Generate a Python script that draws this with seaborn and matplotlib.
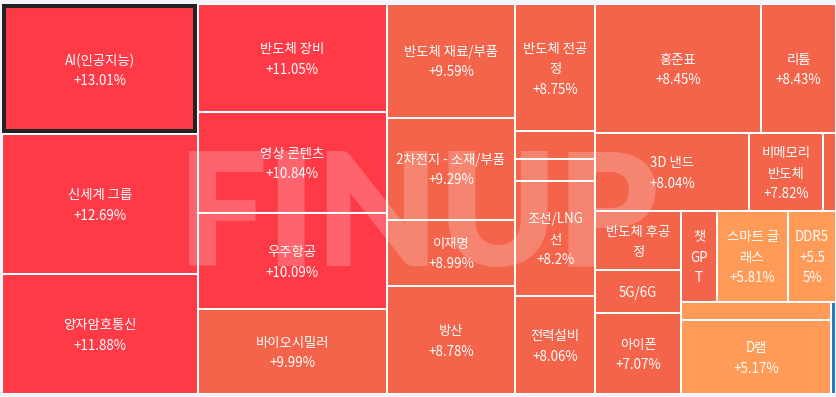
import matplotlib
matplotlib.use("Agg")
import matplotlib.pyplot as plt
import seaborn as sns
from matplotlib.font_manager import FontProperties
from matplotlib.patches import Rectangle

# ---------------- data ----------------
names = ["AI(인공지능)", "신세계 그룹", "양자암호통신",
         "반도체 장비", "영상 콘텐츠", "우주항공", "바이오시밀러",
         "반도체 재료/부품", "2차전지 - 소재/부품", "이재명", "방산",
         "반도체 전공정", "", "", "조선/LNG선", "전력설비",
         "홍준표", "리튬", "3D 낸드", "비메모리 반도체", "",
         "반도체 후공정", "5G/6G", "아이폰",
         "챗GPT", "스마트 글래스", "DDR5", "", "D램", ""]
changes = [13.01, 12.69, 11.88,
           11.05, 10.84, 10.09, 9.99,
           9.59, 9.29, 8.99, 8.78,
           8.75, 8.7, 8.6, 8.2, 8.06,
           8.45, 8.43, 8.04, 7.82, 7.9,
           7.5, 7.4, 7.07,
           7.2, 5.81, 5.55, 5.3, 5.17, -0.3]
weights = [25513, 27175, 23558,
           20371, 19234, 18097, 16202,
           14528, 13056, 8448, 13888,
           10264, 2254, 1691, 9258, 7929,
           21350, 9675, 11973, 5795, 991,
           5002, 3745, 6900,
           3265, 6458, 4335, 2700, 11145, 462]

# nesting of the treemap (h: side by side, v: stacked)
tree = ("h", [("v", [0, 1, 2]),
              ("v", [3, 4, 5, 6]),
              ("v", [7, 8, 9, 10]),
              ("v", [11, 12, 13, 14, 15]),
              ("v", [("h", [16, 17]),
                     ("h", [18, 19, 20]),
                     ("h", [("v", [21, 22, 23]),
                            ("v", [("h", [24, 25, 26]),
                                   ("h", [("v", [27, 28]), 29])])])])])
selected = 0


def total(node):
    if isinstance(node, int):
        return weights[node]
    return sum(total(k) for k in node[1])


def layout(node, x, y, w, h, out):
    if isinstance(node, int):
        out[node] = (x, y, w, h)
        return
    d, kids = node
    s = total(node)
    pos = x if d == "h" else y
    for k in kids:
        f = total(k) / s
        if d == "h":
            layout(k, pos, y, w * f, h, out)
            pos += w * f
        else:
            layout(k, x, pos, w, h * f, out)
            pos += h * f


def color_for(v):
    if v < 0:
        return "#1F7BD3"
    if v >= 10:
        return "#FF3A47"
    if v >= 7:
        return "#F3644A"
    return "#FF9A57"


sns.set_theme(style="white")
plt.rcParams["font.family"] = ["Noto Sans CJK KR", "DejaVu Sans"]

FW, FH = 837, 397
fig = plt.figure(figsize=(FW / 100, FH / 100), dpi=100, facecolor="#F3F5FA")
W, H = 834.0, 390.0
ax = fig.add_axes([2 / FW, 3 / FH, W / FW, H / FH])
ax.set_xlim(0, W)
ax.set_ylim(H, 0)
ax.axis("off")

rects = {}
layout(tree, 0, 0, W, H, rects)
idx = list(range(len(names)))
ax.bar([rects[i][0] for i in idx], [rects[i][3] for i in idx],
       width=[rects[i][2] for i in idx], bottom=[rects[i][1] for i in idx],
       align="edge", color=[color_for(changes[i]) for i in idx],
       edgecolor="white", linewidth=1.45, zorder=1)

# selected cell border
sx, sy, sw, sh = rects[selected]
ax.add_patch(Rectangle((sx + 2.5, sy + 2.2), sw - 5.2, sh - 5.6, fill=False,
                       edgecolor="#222222", linewidth=2.9, zorder=2))

# watermark
ax.text(416, 262, "FINUP", ha="center", va="baseline", fontsize=114,
        fontweight="heavy", family=["Lato", "DejaVu Sans"], color="white",
        alpha=0.21, zorder=3)

fp = FontProperties(family=["Noto Sans CJK KR", "DejaVu Sans"], size=9.6)
fig.canvas.draw()
renderer = fig.canvas.get_renderer()


def tw(s):
    if not s:
        return 0
    return renderer.get_text_width_height_descent(s, fp, ismath=False)[0]


def tokenize(s):
    toks, cur = [], ""
    for ch in s:
        if ch == " " or ord(ch) >= 0x1100:
            if cur:
                toks.append(cur)
                cur = ""
            toks.append(ch)
        else:
            cur += ch
    if cur:
        toks.append(cur)
    return toks


def wrap(s, avail):
    lines, cur = [], ""
    for tok in tokenize(s):
        if tw(cur + tok) <= avail:
            cur += tok
            continue
        if cur.strip():
            lines.append(cur.rstrip())
        cur = ""
        if tok == " ":
            continue
        if tw(tok) <= avail:
            cur = tok
        else:
            for ch in tok:
                if tw(cur + ch) <= avail:
                    cur += ch
                else:
                    if cur:
                        lines.append(cur)
                    cur = ch
    if cur.strip():
        lines.append(cur.rstrip())
    return lines


PADX, PADY, LH, VALPAD = 6.5, 5.0, 20.5, 3.0
for i in idx:
    if not names[i]:
        continue
    x, y, w, h = rects[i]
    avail = w - 2 * PADX
    if avail <= 0:
        continue
    lines = wrap(names[i], avail) + wrap(f"+{changes[i]:g}%", avail - VALPAD)
    nmax = int((h - 2 * PADY) // LH)
    lines = lines[:nmax]
    if not lines or any(tw(l) > avail for l in lines):
        continue
    cy = y + h / 2 + 1.5
    n = len(lines)
    for k, line in enumerate(lines):
        ax.text(x + w / 2, cy + (k - (n - 1) / 2) * LH, line, ha="center",
                va="center", fontproperties=fp, color="white", zorder=4)

fig.savefig("out.png", dpi=100, facecolor=fig.get_facecolor())
